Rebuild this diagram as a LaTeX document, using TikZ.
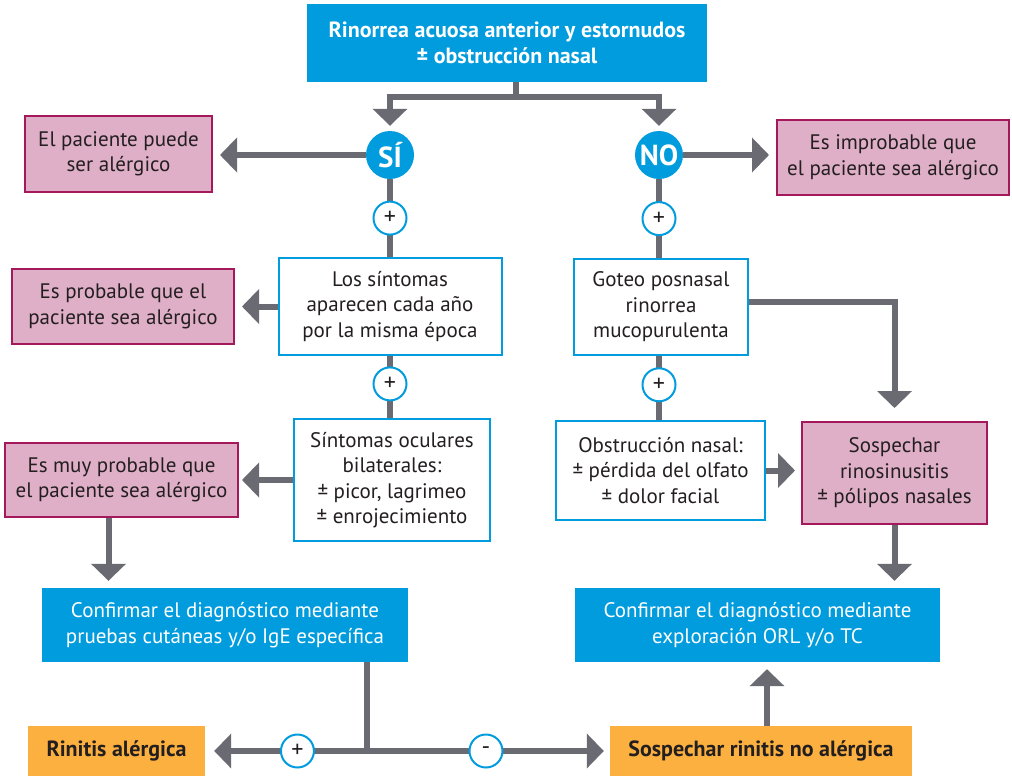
\documentclass[tikz,border=0pt]{standalone}
\usepackage{fontspec}
\setmainfont{PT Sans}
\usetikzlibrary{arrows.meta}
\definecolor{cblue}{HTML}{009CDE}
\definecolor{cpink}{HTML}{DFAEC7}
\definecolor{cmagenta}{HTML}{A3195B}
\definecolor{cgray}{HTML}{6A6A72}
\definecolor{corange}{HTML}{FBB040}
\definecolor{ctext}{HTML}{231F20}

\begin{document}
\begin{tikzpicture}[x=1pt,y=-1pt,
  every node/.style={align=center, inner sep=0pt, text=ctext, font=\fontsize{21}{25.5}\selectfont},
  titlebox/.style={fill=cblue, text=white, font=\fontsize{22}{25.5}\selectfont\bfseries},
  bluebox/.style={fill=cblue, text=white},
  whitebox/.style={draw=cblue, line width=2pt, fill=white},
  pinkbox/.style={draw=cmagenta, line width=2pt, fill=cpink},
  orangebox/.style={fill=corange, font=\fontsize{22}{25.5}\selectfont\bfseries},
  answer/.style={circle, fill=cblue, minimum size=48, text=white, font=\fontsize{29}{30}\selectfont\bfseries},
  plus/.style={circle, draw=cblue, line width=2pt, fill=white, minimum size=33, font=\fontsize{24}{24}\selectfont},
  line/.style={draw=cgray, line width=6pt},
  arr/.style={line, -{Triangle[width=34pt,length=17pt]}, shorten >=7pt}]
\useasboundingbox (0,0) rectangle (1012,776);

\node[titlebox, minimum width=400, minimum height=78] (top) at (507,43) {Rinorrea acuosa anterior y estornudos\\± obstrucción nasal};
\node[answer] (si) at (390,155) {SÍ};
\node[answer] (no) at (659,155) {NO};

\node[pinkbox, minimum width=187, minimum height=76] (puede) at (118.5,154) {El paciente puede\\ser alérgico};
\node[pinkbox, minimum width=232, minimum height=75] (improb) at (893,157.5) {Es improbable que\\el paciente sea alérgico};

\node[whitebox, minimum width=223, minimum height=97] (sintomas) at (390,306.5) {Los síntomas\\aparecen cada año\\por la misma época};
\node[pinkbox, minimum width=222, minimum height=75] (probable) at (123,306.5) {Es probable que el\\paciente sea alérgico};
\node[whitebox, minimum width=196, minimum height=122] (oculares) at (392,480) {Síntomas oculares\\bilaterales:\\± picor, lagrimeo\\± enrojecimiento};
\node[pinkbox, minimum width=233, minimum height=74] (muy) at (121.5,480) {Es muy probable que\\el paciente sea alérgico};

\node[whitebox, minimum width=174, minimum height=96] (goteo) at (661,307) {Goteo posnasal\\rinorrea\\mucopurulenta};
\node[whitebox, minimum width=209, minimum height=99] (obstr) at (660.5,470.5) {Obstrucción nasal:\\± pérdida del olfato\\± dolor facial};
\node[pinkbox, minimum width=185, minimum height=102] (rinosin) at (894.5,473) {Sospechar\\rinosinusitis\\± pólipos nasales};

\node[bluebox, minimum width=366, minimum height=74] (confL) at (225,625) {Confirmar el diagnóstico mediante\\pruebas cutáneas y/o IgE específica};
\node[bluebox, minimum width=365, minimum height=74] (confR) at (757.5,625) {Confirmar el diagnóstico mediante\\exploración ORL y/o TC};

\node[orangebox, minimum width=177, minimum height=50] (rinitis) at (116.5,751) {Rinitis alérgica};
\node[orangebox, minimum width=302, minimum height=50] (nosalerg) at (761,751) {Sospechar rinitis no alérgica};

\coordinate (fork) at (516,97);
\coordinate (join) at (367,751);

\draw[line] (top.south -| fork) -- (fork);
\draw[arr, shorten >=5pt] (fork) -| (si);
\draw[arr, shorten >=5pt] (fork) -| (no);
\draw[arr] (si) -- (si -| puede.east);
\draw[arr] (no) -- (no -| improb.west);

\draw[line] (si) -- node[plus] (p1) {+} (si |- sintomas.north);
\draw[line] (sintomas.south -| si) -- node[plus, pos=0.45] (p3) {+} (si |- oculares.north);
\draw[arr] (sintomas) -- (probable);
\draw[arr] (oculares.west) -- (oculares.west -| probable.east);
\draw[arr] ([xshift=-13pt]muy.south) -- ([xshift=-13pt]muy.south |- confL.north);

\draw[line] (no) -- node[plus] (p2) {+} (no |- goteo.north);
\draw[line] (goteo.south -| no) -- node[plus, pos=0.45] (p4) {+} (no |- obstr.north);
\draw[arr, shorten >=13pt] ([yshift=5pt]goteo.east) -| (rinosin.north);
\draw[arr, shorten >=6pt] (obstr.east) -- (obstr.east -| rinosin.west);
\draw[arr] (rinosin.south) -- (rinosin.south |- confR.north);

\draw[line] (join |- confL.south) -- (join);
\draw[arr, shorten >=9pt] (join) -- node[plus, pos=0.43] (p5) {+} (rinitis.east |- join);
\draw[arr, shorten >=6pt] (join) -- node[plus, pos=0.49] (m6) {-} (nosalerg.west |- join);
\draw[arr] ([xshift=6pt]nosalerg.north) -- ([xshift=6pt]nosalerg.north |- confR.south);
\end{tikzpicture}
\end{document}
